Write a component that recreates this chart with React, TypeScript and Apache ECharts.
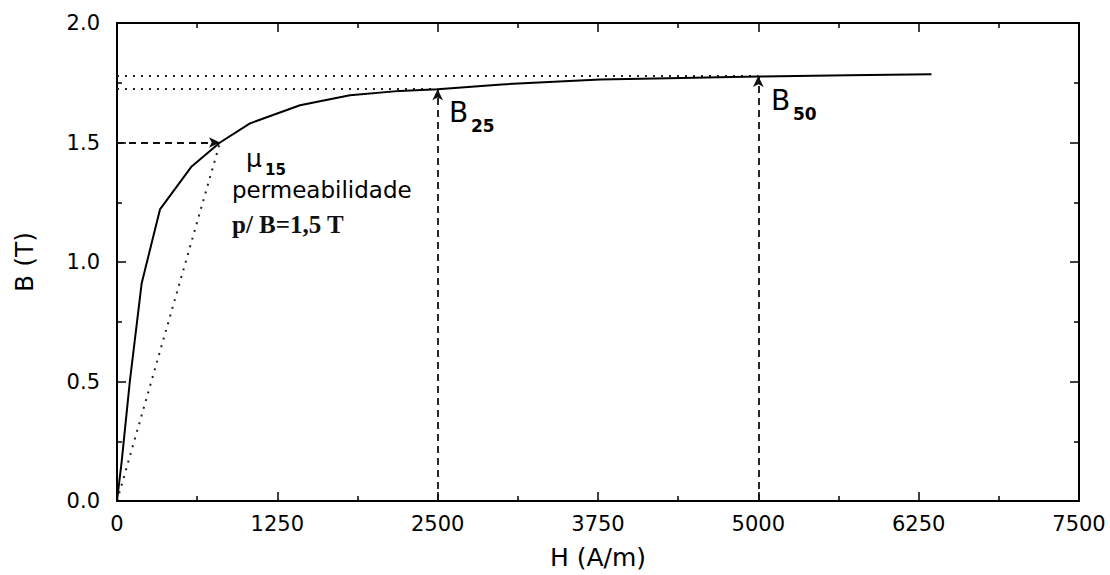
import React, { useEffect, useRef } from "react";
import * as echarts from "echarts";

// Magnetisation curve B(H)
const H_VALUES = [0, 36, 100, 192, 335, 582, 803, 1037, 1427, 1816, 2206, 2500, 3000, 3766, 4300, 5000, 5700, 6350];
const B_VALUES = [0, 0.163, 0.5, 0.91, 1.22, 1.4, 1.5, 1.58, 1.656, 1.698, 1.716, 1.723, 1.743, 1.764, 1.769, 1.776, 1.781, 1.786];

// Reference points
const H15 = 803;
const B15 = 1.5;
const H25 = 2500;
const B25 = 1.723;
const H50 = 5000;
const B50 = 1.778;

const X_MIN = 0;
const X_MAX = 7500;
const X_STEP = 1250;
const Y_MIN = 0;
const Y_MAX = 2;
const Y_STEP = 0.5;

const FONT = "DejaVu Sans";

export default function App() {
  const ref = useRef<HTMLDivElement>(null);

  useEffect(() => {
    if (!ref.current) return;
    const chart = echarts.init(ref.current, null, { renderer: "svg" });

    const axisCommon = {
      axisLine: { show: true, onZero: false, lineStyle: { color: "#000", width: 2 } },
      axisTick: { show: true, inside: true, length: 9, lineStyle: { color: "#000", width: 1.5 } },
      minorTick: { show: true, splitNumber: 2, length: 5, lineStyle: { color: "#000", width: 1.5 } },
      splitLine: { show: false },
      minorSplitLine: { show: false },
    };

    const curve = H_VALUES.map((h, i) => [h, B_VALUES[i]]);

    const dotted = { type: [2, 6], width: 2, color: "#222" };
    const dashed = { type: [7, 5], width: 1.8, color: "#111" };

    chart.setOption({
      animation: false,
      backgroundColor: "#fff",
      grid: { left: 117, right: 31, top: 23, bottom: 73, containLabel: false },
      xAxis: [
        {
          type: "value",
          min: X_MIN,
          max: X_MAX,
          interval: X_STEP,
          position: "bottom",
          name: "H (A/m)",
          nameLocation: "middle",
          nameGap: 44,
          nameTextStyle: { fontFamily: FONT, fontSize: 25, color: "#000" },
          axisLabel: {
            margin: 12,
            fontFamily: FONT,
            fontSize: 21,
            color: "#000",
            formatter: (v: number) => String(v),
          },
          ...axisCommon,
        },
        {
          type: "value",
          min: X_MIN,
          max: X_MAX,
          interval: X_STEP,
          position: "top",
          axisLabel: { show: false },
          ...axisCommon,
        },
      ],
      yAxis: [
        {
          type: "value",
          min: Y_MIN,
          max: Y_MAX,
          interval: Y_STEP,
          position: "left",
          name: "B (T)",
          nameLocation: "middle",
          nameRotate: 90,
          nameGap: 80,
          nameTextStyle: { fontFamily: FONT, fontSize: 25, color: "#000" },
          axisLabel: {
            margin: 17,
            fontFamily: FONT,
            fontSize: 21,
            color: "#000",
            formatter: (v: number) => v.toFixed(1),
          },
          ...axisCommon,
        },
        {
          type: "value",
          min: Y_MIN,
          max: Y_MAX,
          interval: Y_STEP,
          position: "right",
          axisLabel: { show: false },
          ...axisCommon,
        },
      ],
      series: [
        {
          type: "line",
          data: curve,
          symbol: "none",
          lineStyle: { color: "#000", width: 2 },
          silent: true,
          z: 5,
          markLine: {
            silent: true,
            animation: false,
            symbol: ["none", "none"],
            label: { show: false },
            emphasis: { disabled: true },
            data: [
              [
                { coord: [0, B50], lineStyle: dotted, symbol: "none" },
                { coord: [H50, B50], symbol: "none" },
              ],
              [
                { coord: [0, B25], lineStyle: dotted, symbol: "none" },
                { coord: [H25, B25], symbol: "none" },
              ],
              [
                { coord: [0, 0], lineStyle: dotted, symbol: "none" },
                { coord: [H15, B15], symbol: "none" },
              ],
              [
                { coord: [0, B15], lineStyle: dashed, symbol: "none" },
                { coord: [H15, B15], symbol: "arrow", symbolSize: [8, 11] },
              ],
              [
                { coord: [H25, 0], lineStyle: dashed, symbol: "none" },
                { coord: [H25, B25], symbol: "arrow", symbolSize: [8, 11] },
              ],
              [
                { coord: [H50, 0], lineStyle: dashed, symbol: "none" },
                { coord: [H50, B50], symbol: "arrow", symbolSize: [8, 11] },
              ],
            ],
          },
        },
      ],
      graphic: [
        { type: "text", x: 246, y: 158, style: { text: "μ", fontFamily: FONT, fontSize: 25, fill: "#000", verticalAlign: "middle" } },
        { type: "text", x: 265, y: 170, style: { text: "15", fontFamily: FONT, fontSize: 15, fontWeight: "bold", fill: "#000", verticalAlign: "middle" } },
        { type: "text", x: 232, y: 190, style: { text: "permeabilidade", fontFamily: FONT, fontSize: 23, fill: "#000", verticalAlign: "middle" } },
        { type: "text", x: 232, y: 224, style: { text: "p/ B=1,5 T", fontFamily: "Liberation Serif", fontSize: 25, fontWeight: "bold", fill: "#111", verticalAlign: "middle" } },
        { type: "text", x: 449, y: 112, style: { text: "B", fontFamily: FONT, fontSize: 28, fill: "#000", verticalAlign: "middle" } },
        { type: "text", x: 471, y: 126, style: { text: "25", fontFamily: FONT, fontSize: 17, fontWeight: "bold", fill: "#000", verticalAlign: "middle" } },
        { type: "text", x: 771, y: 100, style: { text: "B", fontFamily: FONT, fontSize: 28, fill: "#000", verticalAlign: "middle" } },
        { type: "text", x: 793, y: 114, style: { text: "50", fontFamily: FONT, fontSize: 17, fontWeight: "bold", fill: "#000", verticalAlign: "middle" } },
      ],
    });

    return () => chart.dispose();
  }, []);

  return (
    <div
      ref={ref}
      style={{ position: "fixed", left: 0, top: 0, width: 1110, height: 575, background: "#fff" }}
    />
  );
}
